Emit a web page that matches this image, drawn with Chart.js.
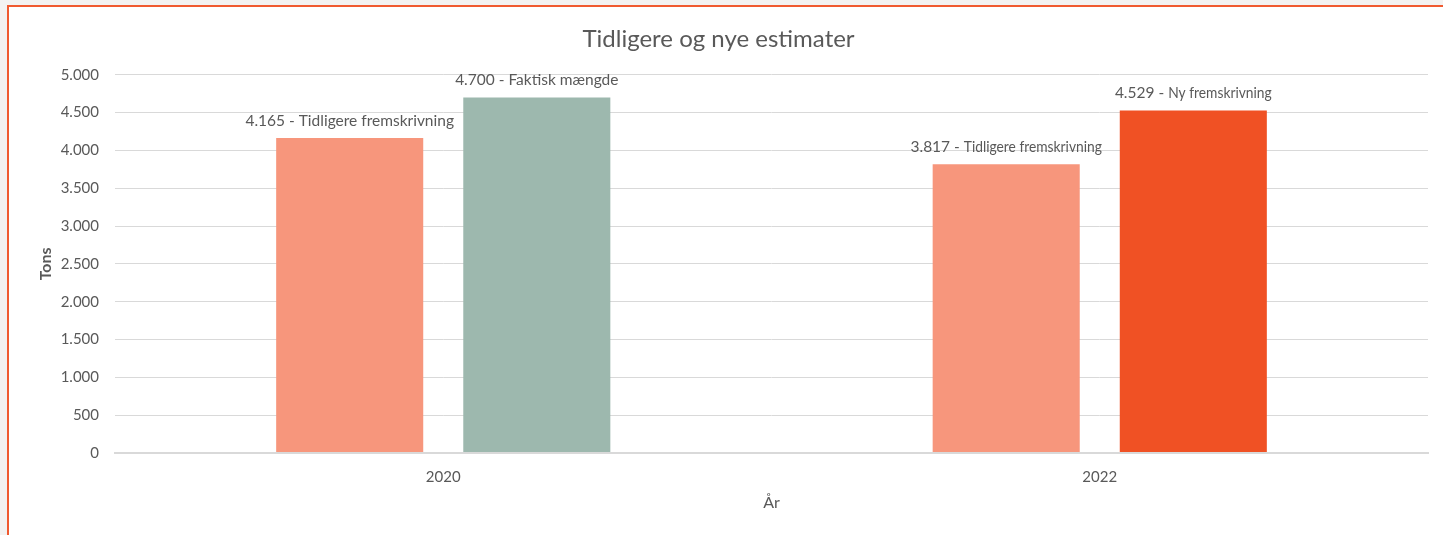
<!DOCTYPE html>
<html>
<head>
<meta charset="utf-8">
<script src="https://cdn.jsdelivr.net/npm/chart.js@4/dist/chart.umd.min.js"></script>
<style>
  html, body { margin: 0; padding: 0; background: #f3f2f1; overflow: hidden; }
  #frame {
    position: absolute; left: 7px; top: 5px;
    width: 1434px; height: 528px;
    border: 2px solid #f05a30; background: #fff;
  }
  canvas { display: block; }
</style>
</head>
<body>
<div id="frame"><canvas id="chart" width="1434" height="528"></canvas></div>
<script>
'use strict';

//*****DATA******/

let years = ['2020', '2022'];
let previousEst = [4165, 3817];
let newEst = [4700, 4529];
let previousNames = ['Tidligere fremskrivning', 'Tidligere fremskrivning'];
let newNames = ['Faktisk mængde', 'Ny fremskrivning'];
let yMax = 5000;
let yStep = 500;

//*****HELPERS******/

let textGrey = '#595959';
let fontFam = 'Lato, "Open Sans", sans-serif';

function fmt(v) {
  return String(v).replace(/\B(?=(\d{3})+(?!\d))/g, '.');
}

// label above each bar, the 2022 names are a bit squeezed like in the original
let barLabels = {
  id: 'barLabels',
  afterDatasetsDraw(chart) {
    let ctx = chart.ctx;
    let nameSets = [previousNames, newNames];
    ctx.save();
    ctx.fillStyle = textGrey;
    ctx.font = '15.5px ' + fontFam;
    ctx.textBaseline = 'middle';
    ctx.textAlign = 'left';
    chart.data.datasets.forEach((ds, di) => {
      let meta = chart.getDatasetMeta(di);
      meta.data.forEach((bar, i) => {
        let numPart = fmt(ds.data[i]) + ' - ';
        let namePart = nameSets[di][i];
        let squeeze = i === 1 ? 0.89 : 1;
        let w1 = ctx.measureText(numPart).width;
        let w2 = ctx.measureText(namePart).width * squeeze;
        let x0 = bar.x - (w1 + w2) / 2;
        let y = bar.y - 17;
        ctx.fillText(numPart, x0, y);
        ctx.fillText(namePart, x0 + w1, y, w2);
      });
    });
    ctx.restore();
  }
};

//*****CHART******/

let canvasElem = document.getElementById('chart');

let chartObj = {
  type: 'bar',
  data: {
    labels: years,
    datasets: [{
      label: 'Tidligere fremskrivning',
      data: previousEst,
      backgroundColor: '#f7967c',
      categoryPercentage: 0.57,
      barPercentage: 0.786
    },
    {
      label: 'Ny',
      data: newEst,
      backgroundColor: ['#9db8ae', '#f05124'],
      categoryPercentage: 0.57,
      barPercentage: 0.786
    }]
  },
  options: {
    responsive: false,
    animation: false,
    layout: { padding: { left: 0, right: 15, top: 0, bottom: 0 } },
    plugins: {
      legend: { display: false },
      tooltip: { enabled: false },
      title: {
        display: true,
        text: 'Tidligere og nye estimater',
        color: textGrey,
        font: { family: fontFam, size: 24, weight: 'normal', lineHeight: 1.2 },
        padding: { top: 18, bottom: 21 }
      }
    },
    scales: {
      x: {
        grid: { display: false, drawTicks: false },
        border: { display: true, color: '#d9d9d9', width: 2 },
        ticks: { color: textGrey, font: { family: fontFam, size: 15 }, padding: 15 },
        title: {
          display: true, text: 'År', color: textGrey,
          font: { family: fontFam, size: 16, lineHeight: 1.2 },
          padding: { top: 0, bottom: 23 }
        },
        afterFit(scale) { scale.height = 82; }
      },
      y: {
        min: 0,
        max: yMax,
        grid: {
          color: '#d9d9d9',
          lineWidth: (c) => c.tick && c.tick.value === 0 ? 2 : 1,
          drawTicks: false
        },
        border: { display: false },
        ticks: {
          stepSize: yStep,
          color: textGrey,
          font: { family: fontFam, size: 15 },
          padding: 16,
          callback: (v) => fmt(v)
        },
        title: {
          display: true, text: 'Tons', color: textGrey,
          font: { family: fontFam, size: 16, weight: 'bold', lineHeight: 1.2 },
          padding: { top: 27, bottom: 0 }
        },
        afterFit(scale) { scale.width = 106; }
      }
    }
  },
  plugins: [barLabels]
};

new Chart(canvasElem, chartObj);
</script>
</body>
</html>
